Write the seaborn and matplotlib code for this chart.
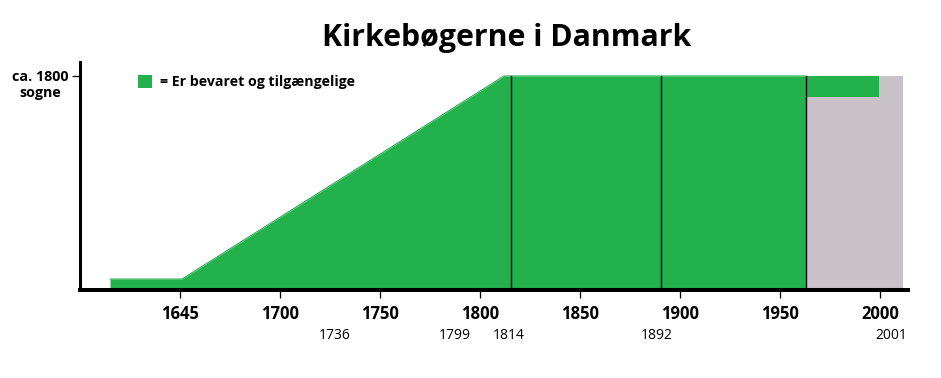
import matplotlib
matplotlib.use("Agg")
import matplotlib.pyplot as plt
from matplotlib.patches import Patch
import seaborn as sns
import numpy as np

# ---- data ----
title = "Kirkebøgerne i Danmark"
legend_label = "= Er bevaret og tilgængelige"
y_label = "ca. 1800\nsogne"
y_top = 1800                      # ca. 1800 parishes

# preserved church books (green area): year, parishes
area_years = [1615, 1651, 1651, 1812, 1963]
area_values = [76, 76, 76, 1800, 1800]

# recent period: only top band green, rest grey
grey_years = [1963, 2011.5]
grey_values = [1800, 1800]
band_years = [1963, 1999.5]
band_low = [1622, 1622]
band_high = [1800, 1800]

divider_years = [1815.5, 1890.5, 1963]

tick_positions = [1650, 1700, 1750, 1800, 1850, 1900, 1950, 2000]
tick_labels = ["1645", "1700", "1750", "1800", "1850", "1900", "1950", "2000"]

milestone_labels = ["1736", "1799", "1814", "1892", "2001"]
milestone_positions = [1727.5, 1787.5, 1814.5, 1888.5, 2005.5]

GREEN = "#22b14c"
GREY = "#c9c2c9"

# ---- figure ----
sns.set_theme(style="white")
plt.rcParams["font.family"] = ["Open Sans", "DejaVu Sans"]
plt.rcParams["text.color"] = "black"
plt.rcParams["xtick.color"] = "black"
plt.rcParams["ytick.color"] = "black"

W, H = 941, 378
fig = plt.figure(figsize=(W / 100, H / 100), dpi=100)
left_px, right_px, top_px, bottom_px = 80, 908, 62, 290
ax = fig.add_axes([left_px / W, 1 - bottom_px / H,
                   (right_px - left_px) / W, (bottom_px - top_px) / H])

ax.fill_between(grey_years, 0, grey_values, color=GREY, lw=0, zorder=1)
ax.fill_between(band_years, band_low, band_high, color=GREEN, lw=0, zorder=2)
ax.fill_between(area_years, 0, area_values, color=GREEN, lw=0, zorder=2)
sns.lineplot(x=area_years, y=area_values, color=GREEN, lw=0.8, ax=ax,
             estimator=None, sort=False, zorder=2)
for xv in divider_years:
    ax.plot([xv, xv], [0, y_top], color="black", lw=1.0, zorder=3)

ax.set_xlim(1600, 2014)
ax.set_ylim(-17, 1919)

for s in ["top", "right"]:
    ax.spines[s].set_visible(False)
ax.spines["left"].set_linewidth(2.2)
ax.spines["bottom"].set_linewidth(2.9)
ax.spines["left"].set_color("black")
ax.spines["bottom"].set_color("black")
ax.spines["bottom"].set_zorder(5)

ax.set_xticks(tick_positions)
ax.set_xticklabels(tick_labels, fontsize=12, fontweight="bold", color="black")
ax.tick_params(axis="x", direction="out", length=6, width=0.9, color="black",
               pad=5, bottom=True)
ax.set_yticks([y_top])
ax.set_yticklabels([""])
ax.tick_params(axis="y", direction="out", length=5.5, width=0.9, color="black",
               left=True)
ax.annotate(y_label, xy=(0, y_top), xycoords=("axes fraction", "data"),
            xytext=(-28.5, -6.5), textcoords="offset points",
            ha="center", va="center", fontsize=10.3, fontweight="bold",
            linespacing=1.25, color="black")

for lab, xp in zip(milestone_labels, milestone_positions):
    ax.annotate(lab, xy=(xp, 0), xycoords=("data", "axes fraction"),
                xytext=(0, -32.5), textcoords="offset points",
                ha="center", va="center", fontsize=10, color="black")

fig.text(507 / W, 1 - 46 / H, title, ha="center", va="baseline",
         fontsize=21.8, fontweight="bold", color="black")

leg = ax.legend(handles=[Patch(facecolor=GREEN, edgecolor="none", label=legend_label)],
                loc="upper left", bbox_to_anchor=(138 / W, 1 - 75 / H),
                bbox_transform=fig.transFigure, frameon=False,
                prop={"weight": "bold", "size": 10.2},
                handlelength=1.0, handleheight=1.0, handletextpad=0.55,
                borderpad=0, borderaxespad=0)
for t in leg.get_texts():
    t.set_color("black")

fig.savefig("out.png", dpi=100)
